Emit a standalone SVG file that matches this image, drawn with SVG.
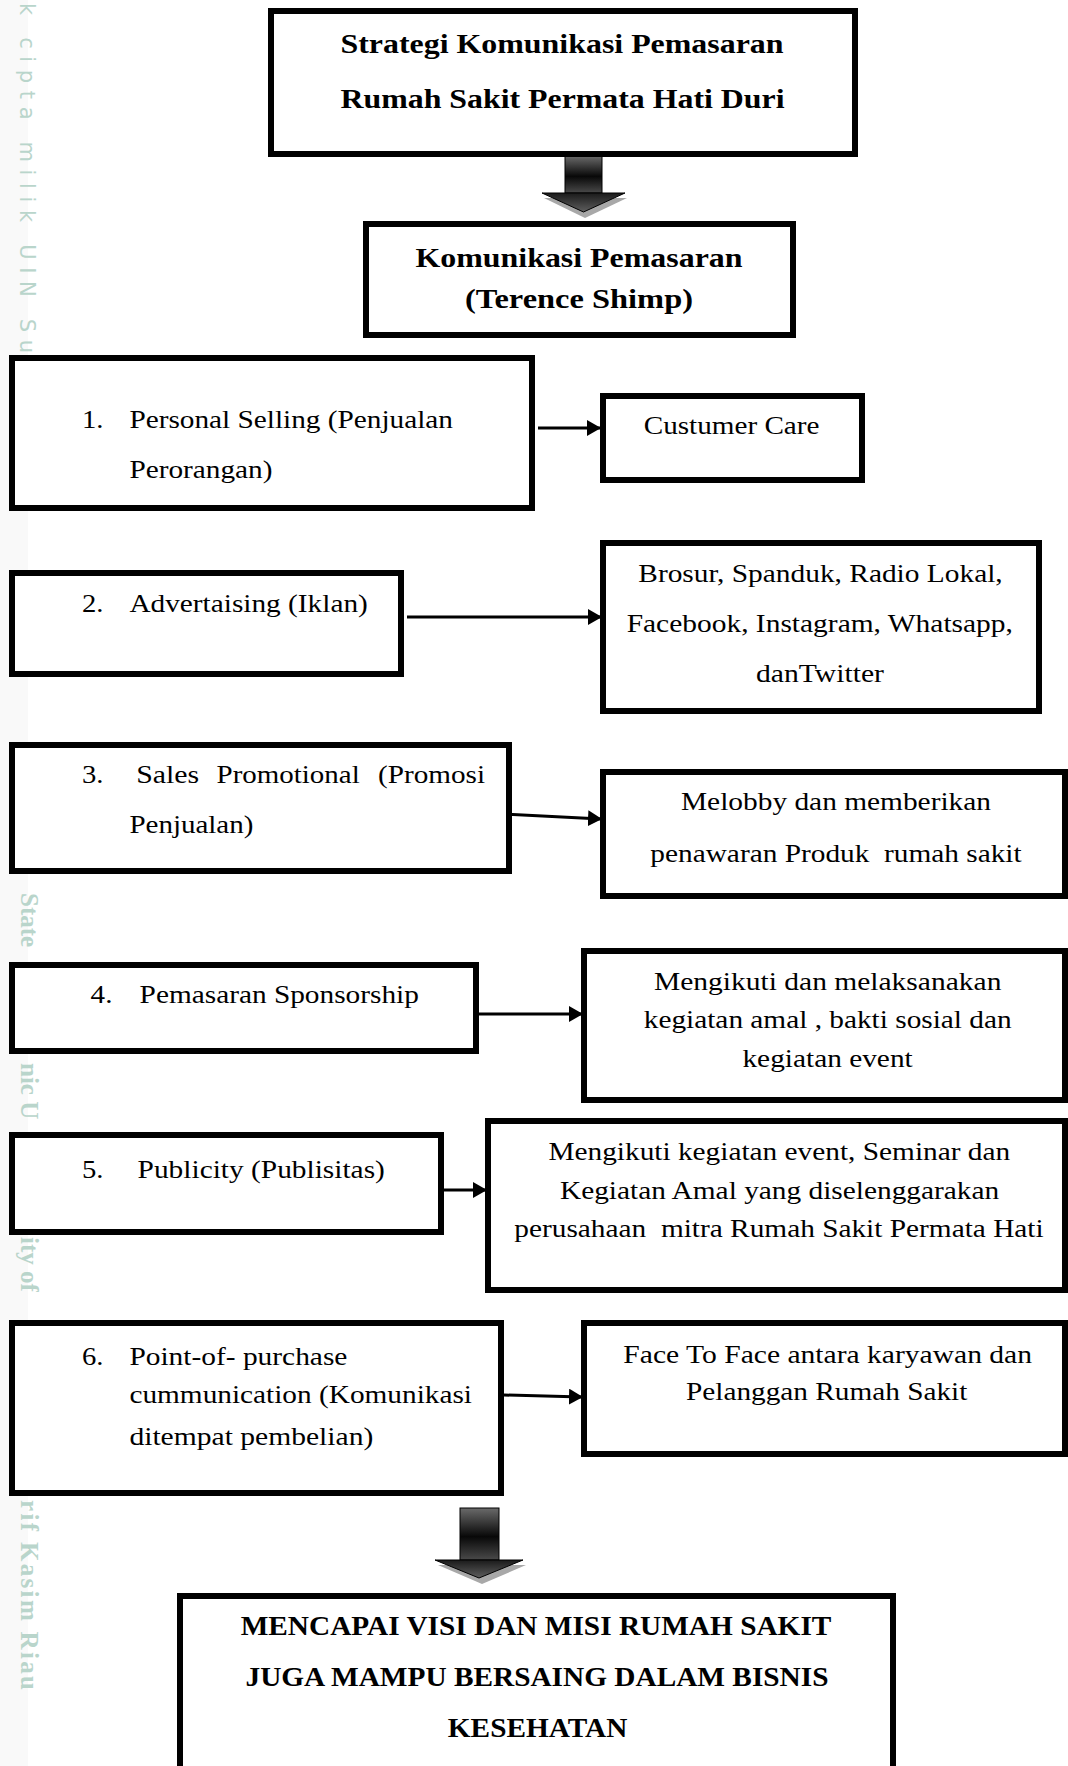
<svg xmlns="http://www.w3.org/2000/svg" width="1068" height="1766" viewBox="0 0 1068 1766">
<defs>
<style>
.box{fill:#fff;stroke:#000;stroke-width:6}
.t{font-family:"Liberation Serif","Times New Roman",serif;font-size:25px;fill:#000}
.b{font-family:"Liberation Serif","Times New Roman",serif;font-size:27px;font-weight:bold;fill:#000}
.c{text-anchor:middle}
.con{stroke:#000;stroke-width:3;fill:none;marker-end:url(#ah)}
.wms{font-family:"DejaVu Sans","Liberation Sans",sans-serif;font-size:21px;fill:#b9d5cb}
.wmr{font-family:"Liberation Serif","Times New Roman",serif;font-size:25px;font-weight:bold;fill:#b9d5cb}
.shaft{fill:url(#gs);stroke:#000;stroke-width:1}
.head{fill:url(#gh);stroke:#000;stroke-width:1}
.shadow{fill:#a8a8a8}
</style>
<marker id="ah" markerUnits="userSpaceOnUse" markerWidth="14" markerHeight="16" refX="13" refY="8" orient="auto">
<path d="M0,0 L14,8 L0,16 z" fill="#000"/>
</marker>
<linearGradient id="gs" x1="0" y1="0" x2="0" y2="1">
<stop offset="0" stop-color="#6a6a6a"/>
<stop offset="0.55" stop-color="#080808"/>
<stop offset="1" stop-color="#4a4a4a"/>
</linearGradient>
<linearGradient id="gh" x1="0" y1="0" x2="0" y2="1">
<stop offset="0" stop-color="#1a1a1a"/>
<stop offset="1" stop-color="#5e5e5e"/>
</linearGradient>
</defs>
<rect width="1068" height="1766" fill="#fff"/>
<rect x="0" y="0" width="28" height="1766" fill="#f9f9f9"/>

<g id="watermark">
<text class="wms" transform="translate(20,3) rotate(90)" textLength="350" lengthAdjust="spacing">k cipta milik UIN Su</text>
<text class="wmr" transform="translate(21,893) rotate(90)">State</text>
<text class="wmr" transform="translate(21,1063) rotate(90)">nic U</text>
<text class="wmr" transform="translate(21,1237) rotate(90)">ity of</text>
<text class="wmr" transform="translate(21,1500) rotate(90)" textLength="190" lengthAdjust="spacing">rif Kasim Riau</text>
</g>

<g id="connectors">
<line class="con" x1="538" y1="428" x2="600" y2="428"/>
<line class="con" x1="407" y1="617" x2="601" y2="617"/>
<line class="con" x1="504" y1="814" x2="601" y2="819"/>
<line class="con" x1="479" y1="1014" x2="582" y2="1014"/>
<line class="con" x1="444" y1="1190" x2="486" y2="1190"/>
<line class="con" x1="504" y1="1395" x2="582" y2="1397"/>
<g id="blockarrow1">
<polygon class="shadow" points="544,198 627,198 585,218"/>
<rect class="shaft" x="565" y="156" width="37" height="37"/>
<polygon class="head" points="542,193 625,193 583.5,212"/>
</g>
<g id="blockarrow2">
<polygon class="shadow" points="438,1565 526,1565 482,1584"/>
<rect class="shaft" x="460" y="1508" width="39" height="52"/>
<polygon class="head" points="435,1560 523,1560 479,1578"/>
</g>
</g>

<g id="n-title">
<rect class="box" x="271" y="11" width="584" height="143"/>
<text class="b c" x="562" y="53" textLength="443" lengthAdjust="spacingAndGlyphs">Strategi Komunikasi Pemasaran</text>
<text class="b c" x="562.5" y="108" textLength="444" lengthAdjust="spacingAndGlyphs">Rumah Sakit Permata Hati Duri</text>
</g>

<g id="n-komunikasi">
<rect class="box" x="366" y="224" width="427" height="111"/>
<text class="b c" x="579" y="266.5" textLength="327" lengthAdjust="spacingAndGlyphs">Komunikasi Pemasaran</text>
<text class="b c" x="579" y="308" textLength="228" lengthAdjust="spacingAndGlyphs">(Terence Shimp)</text>
</g>

<g id="n-1">
<rect class="box" x="12" y="358" width="520" height="150"/>
<text class="t" x="82" y="428" textLength="21.5" lengthAdjust="spacingAndGlyphs">1.</text>
<text class="t" x="129.4" y="428" textLength="323.6" lengthAdjust="spacingAndGlyphs">Personal Selling (Penjualan</text>
<text class="t" x="129.4" y="478" textLength="143" lengthAdjust="spacingAndGlyphs">Perorangan)</text>
</g>

<g id="n-1r">
<rect class="box" x="603" y="396" width="259" height="84"/>
<text class="t c" x="731.6" y="434" textLength="175.8" lengthAdjust="spacingAndGlyphs">Custumer Care</text>
</g>

<g id="n-2">
<rect class="box" x="12" y="573" width="389" height="101"/>
<text class="t" x="82" y="611.7" textLength="21.5" lengthAdjust="spacingAndGlyphs">2.</text>
<text class="t" x="129.4" y="611.7" textLength="238.4" lengthAdjust="spacingAndGlyphs">Advertaising (Iklan)</text>
</g>

<g id="n-2r">
<rect class="box" x="603" y="543" width="436" height="168"/>
<text class="t c" x="820.5" y="581.7" textLength="364.4" lengthAdjust="spacingAndGlyphs">Brosur, Spanduk, Radio Lokal,</text>
<text class="t c" x="819.8" y="631.7" textLength="386.3" lengthAdjust="spacingAndGlyphs">Facebook, Instagram, Whatsapp,</text>
<text class="t c" x="820" y="681.7" textLength="128" lengthAdjust="spacingAndGlyphs">danTwitter</text>
</g>

<g id="n-3">
<rect class="box" x="12" y="745" width="497" height="126"/>
<text class="t" y="783.3"><tspan x="82" textLength="21.5" lengthAdjust="spacingAndGlyphs">3.</tspan><tspan x="136.2" textLength="63" lengthAdjust="spacingAndGlyphs">Sales</tspan><tspan x="216.6" textLength="143.1" lengthAdjust="spacingAndGlyphs">Promotional</tspan><tspan x="378" textLength="107" lengthAdjust="spacingAndGlyphs">(Promosi</tspan></text>
<text class="t" x="129.4" y="833.3" textLength="124" lengthAdjust="spacingAndGlyphs">Penjualan)</text>
</g>

<g id="n-3r">
<rect class="box" x="603" y="772" width="462" height="124"/>
<text class="t c" x="836" y="810" textLength="310" lengthAdjust="spacingAndGlyphs">Melobby dan memberikan</text>
<text class="t c" x="836" y="861.7" textLength="371.3" lengthAdjust="spacingAndGlyphs" xml:space="preserve">penawaran Produk  rumah sakit</text>
</g>

<g id="n-4">
<rect class="box" x="12" y="965" width="464" height="86"/>
<text class="t" x="90.6" y="1003.3" textLength="21.8" lengthAdjust="spacingAndGlyphs">4.</text>
<text class="t" x="139.6" y="1003.3" textLength="279.3" lengthAdjust="spacingAndGlyphs">Pemasaran Sponsorship</text>
</g>

<g id="n-4r">
<rect class="box" x="584" y="951" width="481" height="149"/>
<text class="t c" x="827.7" y="990" textLength="347.4" lengthAdjust="spacingAndGlyphs">Mengikuti dan melaksanakan</text>
<text class="t c" x="827.7" y="1028.3" textLength="367.9" lengthAdjust="spacingAndGlyphs">kegiatan amal , bakti sosial dan</text>
<text class="t c" x="827.6" y="1066.7" textLength="170.3" lengthAdjust="spacingAndGlyphs">kegiatan event</text>
</g>

<g id="n-5">
<rect class="box" x="12" y="1135" width="429" height="97"/>
<text class="t" x="82" y="1178.3" textLength="21.5" lengthAdjust="spacingAndGlyphs">5.</text>
<text class="t" x="137.6" y="1178.3" textLength="247.3" lengthAdjust="spacingAndGlyphs">Publicity (Publisitas)</text>
</g>

<g id="n-5r">
<rect class="box" x="488" y="1121" width="577" height="169"/>
<text class="t c" x="779.3" y="1160" textLength="461.8" lengthAdjust="spacingAndGlyphs">Mengikuti kegiatan event, Seminar dan</text>
<text class="t c" x="779.6" y="1199" textLength="439.3" lengthAdjust="spacingAndGlyphs">Kegiatan Amal yang diselenggarakan</text>
<text class="t c" x="779" y="1236.7" textLength="529.3" lengthAdjust="spacingAndGlyphs" xml:space="preserve">perusahaan  mitra Rumah Sakit Permata Hati</text>
</g>

<g id="n-6">
<rect class="box" x="12" y="1323" width="489" height="170"/>
<text class="t" x="82" y="1365" textLength="21.5" lengthAdjust="spacingAndGlyphs">6.</text>
<text class="t" x="129.4" y="1365" textLength="218" lengthAdjust="spacingAndGlyphs">Point-of- purchase</text>
<text class="t" x="129.4" y="1403.3" textLength="342.6" lengthAdjust="spacingAndGlyphs">cummunication (Komunikasi</text>
<text class="t" x="129.4" y="1445" textLength="243.9" lengthAdjust="spacingAndGlyphs">ditempat pembelian)</text>
</g>

<g id="n-6r">
<rect class="box" x="584" y="1323" width="481" height="131"/>
<text class="t c" x="827.7" y="1363.3" textLength="408.7" lengthAdjust="spacingAndGlyphs">Face To Face antara karyawan dan</text>
<text class="t c" x="826.7" y="1400" textLength="281.3" lengthAdjust="spacingAndGlyphs">Pelanggan Rumah Sakit</text>
</g>

<g id="n-final">
<rect class="box" x="180" y="1596" width="713" height="200"/>
<text class="b c" x="536" y="1635" textLength="590.7" lengthAdjust="spacingAndGlyphs" style="font-size:26.5px">MENCAPAI VISI DAN MISI RUMAH SAKIT</text>
<text class="b c" x="537" y="1686" textLength="583" lengthAdjust="spacingAndGlyphs" style="font-size:26.5px">JUGA MAMPU BERSAING DALAM BISNIS</text>
<text class="b c" x="537.6" y="1737" textLength="179.5" lengthAdjust="spacingAndGlyphs" style="font-size:26.5px">KESEHATAN</text>
</g>
</svg>
